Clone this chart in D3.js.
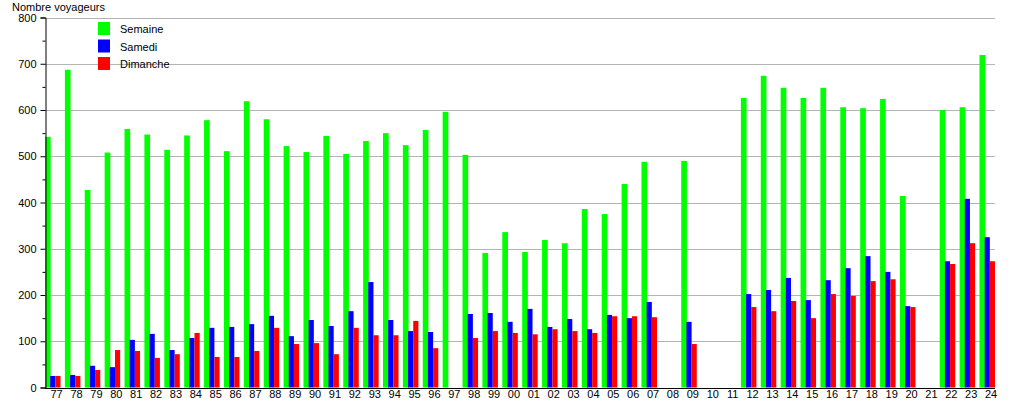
<!DOCTYPE html>
<html><head><meta charset="utf-8">
<script src="https://cdn.jsdelivr.net/npm/d3@7"></script>
<style>body{margin:0;background:#fff}svg{display:block}text{font-family:"Liberation Sans",Arial,sans-serif;fill:#000}</style>
</head><body>
<script>
const years = ["77","78","79","80","81","82","83","84","85","86","87","88","89","90","91","92","93","94","95","96","97","98","99","00","01","02","03","04","05","06","07","08","09","10","11","12","13","14","15","16","17","18","19","20","21","22","23","24"];
const semaine = [542,687,427,508,559,547,514,545,578,511,619,580,522,509,544,505,533,550,524,557,596,503,291,336,293,319,312,386,375,440,488,null,490,null,null,626,674,648,626,648,606,604,624,414,null,600,606,719];
const samedi  = [25,27,47,44,103,116,81,107,129,131,137,155,111,146,133,165,228,146,122,120,null,159,161,142,170,131,148,126,157,150,185,null,142,null,null,202,211,237,189,232,258,284,250,176,null,273,408,325];
const dimanche= [25,25,38,81,79,64,72,118,66,66,79,129,94,96,72,129,113,113,144,85,null,107,122,118,115,126,122,118,154,154,152,null,94,null,null,174,165,187,150,202,198,230,234,174,null,267,312,273];
const seriesNames = ["Semaine","Samedi","Dimanche"];
const seriesColors = ["#00ff00","#0000ff","#ff0000"];
const yTicks = [0,100,200,300,400,500,600,700,800];

const W = 1015, H = 400;
const svg = d3.select("body").append("svg").attr("width", W).attr("height", H);
const x = d3.scaleBand().domain(years).range([45, 995]).paddingInner(0.22).paddingOuter(0);
const x1 = d3.scaleBand().domain(seriesNames).range([0, x.bandwidth()]);
const y = d3.scaleLinear().domain([0, 800]).range([387.5, 17.5]);

// grid
svg.append("g").selectAll("line").data(yTicks.filter(d => d > 0)).join("line")
  .attr("x1", 45).attr("x2", 995).attr("y1", d => Math.round(y(d)) + 0.5).attr("y2", d => Math.round(y(d)) + 0.5)
  .attr("stroke", "#b4b4b4").attr("stroke-width", 1);

// bars
const all = [semaine, samedi, dimanche];
all.forEach((vals, si) => {
  svg.append("g").selectAll("rect").data(years.map((yr, i) => ({yr, v: vals[i]})).filter(d => d.v != null)).join("rect")
    .attr("x", d => x(d.yr) + x1(seriesNames[si]))
    .attr("width", x1.bandwidth() + (si === 0 ? 0.5 : 0))
    .attr("y", d => y(d.v))
    .attr("height", d => y(0) - y(d.v))
    .attr("fill", seriesColors[si]);
});

// y axis
const yAxis = d3.axisLeft(y).tickValues(yTicks).tickSize(5).tickPadding(4).tickFormat(d3.format("d"));
const gy = svg.append("g").attr("transform", "translate(45.5,0)").call(yAxis);
gy.select(".domain").attr("stroke", "#000");
gy.selectAll(".tick line").attr("stroke", "#000");
gy.selectAll(".tick text").style("font-family", '"Liberation Sans",Arial,sans-serif').style("font-size", "11px").attr("fill", "#000");
// minor ticks
const gyMinor = d3.axisLeft(y).tickValues(d3.range(50, 800, 100)).tickSize(3).tickFormat("");
const gm = svg.append("g").attr("transform", "translate(45.5,0)").call(gyMinor);
gm.select(".domain").remove();
gm.selectAll(".tick line").attr("stroke", "#000");

// x axis
const xAxis = d3.axisBottom(x).tickSize(0).tickPadding(2);
const gx = svg.append("g").attr("transform", "translate(0,388)").call(xAxis);
gx.select(".domain").attr("stroke", "#000").attr("d", "M45,0.5H995");
gx.selectAll(".tick").attr("transform", d => `translate(${x(d) + x.bandwidth() * 0.75},0)`);
gx.selectAll(".tick text").style("font-family", '"Liberation Sans",Arial,sans-serif').style("font-size", "11px").attr("fill", "#000");

// y title
svg.append("text").attr("x", 12).attr("y", 11).style("font-size", "11px").text("Nombre voyageurs");

// legend
const lg = svg.append("g");
seriesNames.forEach((n, i) => {
  lg.append("rect").attr("x", 98).attr("y", 22 + i * 17.5).attr("width", 12).attr("height", 13).attr("fill", seriesColors[i]);
  lg.append("text").attr("x", 120).attr("y", 33 + i * 17.5).style("font-size", "11px").text(n);
});
</script>
</body></html>
